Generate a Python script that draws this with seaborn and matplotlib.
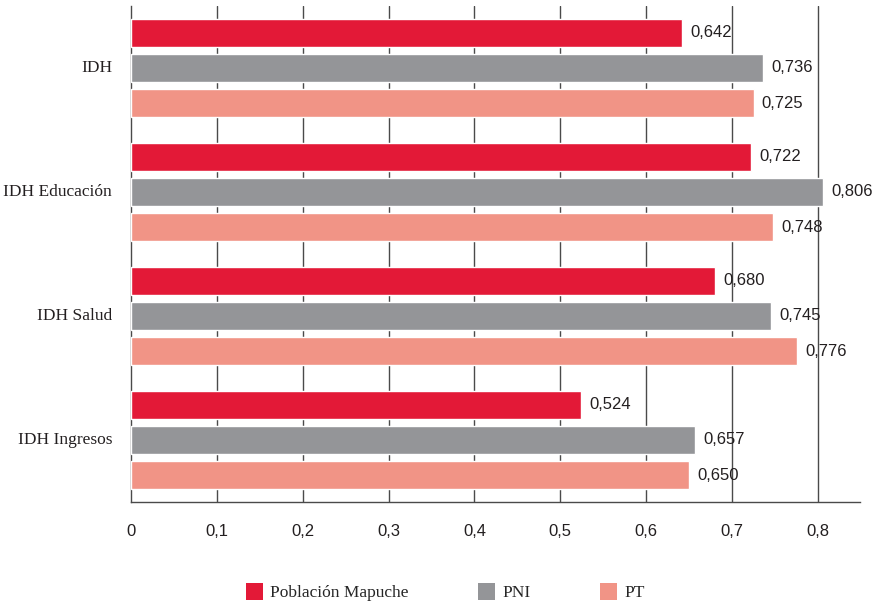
import matplotlib
matplotlib.use("Agg")
import matplotlib.pyplot as plt
from matplotlib.patches import Patch
import seaborn as sns
import pandas as pd

categories = ["IDH", "IDH Educación", "IDH Salud", "IDH Ingresos"]
groups = ["Población Mapuche", "PNI", "PT"]
mapuche = [0.642, 0.722, 0.680, 0.524]
pni = [0.736, 0.806, 0.745, 0.657]
pt = [0.725, 0.748, 0.776, 0.650]
x_ticks = [0, 0.1, 0.2, 0.3, 0.4, 0.5, 0.6, 0.7, 0.8]
colors = ["#E31937", "#949598", "#F19486"]

rows = []
for g, vals in zip(groups, [mapuche, pni, pt]):
    for c, v in zip(categories, vals):
        rows.append({"indicador": c, "grupo": g, "valor": v})
df = pd.DataFrame(rows)

sns.set_theme(style="white")
serif = ["Liberation Serif", "DejaVu Serif"]
sans = ["Liberation Sans", "DejaVu Sans"]

fig = plt.figure(figsize=(8.73, 6.06), dpi=100)
ax = fig.add_axes([131 / 873, 1 - 502 / 606, (860 - 131) / 873, (502 - 6) / 606])

sns.barplot(data=df, y="indicador", x="valor", hue="grupo", order=categories,
            hue_order=groups, palette=colors, orient="h", width=0.85, gap=0.21,
            errorbar=None, saturation=1, legend=False, ax=ax, zorder=3)

for cont in ax.containers:
    labels = [f"{bar.get_width():.3f}".replace(".", ",") for bar in cont]
    ax.bar_label(cont, labels=labels, padding=6, fontsize=12, family=sans,
                 color="#231f20", zorder=4)

ax.set_xlim(0, 0.849)
ax.set_ylim(3.5, -0.5)
ax.set_xticks(x_ticks)
ax.set_xticklabels([f"{t:g}".replace(".", ",") for t in x_ticks],
                   fontsize=12, family=sans, color="#231f20")
ax.set_yticks([-0.5, 0.5, 1.5, 2.5, 3.5])
ax.set_yticklabels([])
for i, c in enumerate(categories):
    ax.text(-0.022, i, c, transform=ax.transData, ha="right", va="center",
            fontsize=12.5, family=serif, color="#231f20")

ax.grid(False)
for t in x_ticks[1:]:
    ax.axvline(t, color="#4a4a4a", lw=1, zorder=1)

ax.tick_params(axis="x", direction="out", length=6, width=1, color="#4a4a4a", pad=10)
ax.tick_params(axis="y", direction="out", length=6, width=1, color="#4a4a4a")
for s in ["top", "right"]:
    ax.spines[s].set_visible(False)
for s in ["left", "bottom"]:
    ax.spines[s].set_color("#4a4a4a")
    ax.spines[s].set_linewidth(1)
ax.set_xlabel("")
ax.set_ylabel("")

handles = [Patch(facecolor=c, edgecolor="none") for c in colors]
fig.legend(handles, groups, loc="center", bbox_to_anchor=(0.51, 0.023), ncol=3,
           frameon=False, prop={"family": serif, "size": 12.5},
           handlelength=1.0, handleheight=1.2, handletextpad=0.4, columnspacing=4.0)

fig.savefig("out.png", dpi=100)
